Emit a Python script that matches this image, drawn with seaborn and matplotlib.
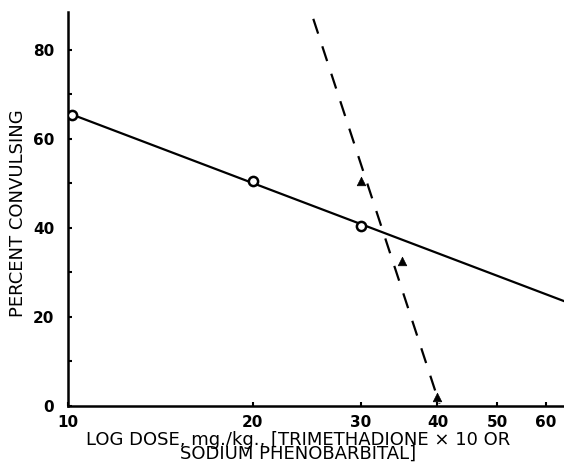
"""
plot.py
-------
Log dose vs percent convulsing (trimethadione x 10 / sodium phenobarbital).
"""

import numpy as np
import pandas as pd
import matplotlib
matplotlib.use("Agg")
import matplotlib.pyplot as plt
import seaborn as sns
from matplotlib.ticker import FixedLocator, NullFormatter, NullLocator

# --- data ---
# open circles (solid fit line)
circle_dose = [10.15, 20, 30]
circle_pct = [65.5, 50.5, 40.5]
# filled triangles (dashed fit line)
tri_dose = [30, 35, 40]
tri_pct = [50.5, 32.5, 2.0]
# fitted lines, ends as drawn
solid_dose = [10.15, 64.5]
solid_pct = [65.5, 23.5]
dashed_dose = [25.1, 40.3]
dashed_pct = [87, 0.5]

x_ticks = [10, 20, 30, 40, 50, 60]
y_ticks = [0, 20, 40, 60, 80]
y_minor = [10, 30, 50, 70]


def main():
    sns.set_style("ticks", {"axes.edgecolor": "black", "text.color": "black",
                            "xtick.color": "black", "ytick.color": "black",
                            "axes.labelcolor": "black"})
    plt.rcParams["font.family"] = ["DejaVu Sans"]

    fig = plt.figure(figsize=(5.64, 4.68), dpi=100)
    ax = fig.add_axes([0.1206, 0.1325, 0.8794, 0.8415])

    solid = pd.DataFrame({"dose": solid_dose, "pct": solid_pct})
    dashed = pd.DataFrame({"dose": dashed_dose, "pct": dashed_pct})
    circles = pd.DataFrame({"dose": circle_dose, "pct": circle_pct})
    tris = pd.DataFrame({"dose": tri_dose, "pct": tri_pct})

    sns.lineplot(data=solid, x="dose", y="pct", ax=ax, color="black",
                 linewidth=1.6, zorder=2)
    sns.lineplot(data=dashed, x="dose", y="pct", ax=ax, color="black",
                 linewidth=1.6, zorder=2)
    ax.lines[-1].set_dashes([7, 6])
    sns.scatterplot(data=circles, x="dose", y="pct", ax=ax, marker="o",
                    s=44, facecolor="white", edgecolor="black",
                    linewidth=1.8, zorder=3)
    sns.scatterplot(data=tris, x="dose", y="pct", ax=ax, marker="^",
                    s=38, color="black", edgecolor="black", zorder=3)

    ax.set_xscale("log")
    ax.set_xlim(10, 64.3)
    ax.set_ylim(0, 88.5)

    ax.xaxis.set_major_locator(FixedLocator(x_ticks))
    ax.xaxis.set_minor_locator(NullLocator())
    ax.xaxis.set_minor_formatter(NullFormatter())
    ax.set_xticklabels([str(t) for t in x_ticks])
    ax.yaxis.set_major_locator(FixedLocator(y_ticks))
    ax.yaxis.set_minor_locator(FixedLocator(y_minor))

    ax.tick_params(axis="both", which="major", direction="in", length=3,
                   width=1.5, labelsize=11, colors="black")
    ax.tick_params(axis="x", which="major", pad=6.5)
    ax.tick_params(axis="y", which="major", pad=10)
    ax.tick_params(axis="y", which="minor", direction="in", length=3,
                   width=1.5, colors="black")
    for lab in ax.get_xticklabels() + ax.get_yticklabels():
        lab.set_fontweight("bold")

    sns.despine(ax=ax)
    for s in ["left", "bottom"]:
        ax.spines[s].set_linewidth(1.8)
        ax.spines[s].set_color("black")

    ax.set_xlabel("LOG DOSE, mg./kg., [TRIMETHADIONE \u00d7 10 OR\nSODIUM PHENOBARBITAL]",
                  fontsize=13, linespacing=0.72, color="black")
    ax.xaxis.set_label_coords(0.464, -0.063, transform=ax.transAxes)
    ax.xaxis.label.set_verticalalignment("top")
    ax.set_ylabel("PERCENT CONVULSING", fontsize=13, color="black")
    ax.yaxis.set_label_coords(-0.083, 0.49)

    fig.savefig("out.png", dpi=100)


if __name__ == "__main__":
    main()
